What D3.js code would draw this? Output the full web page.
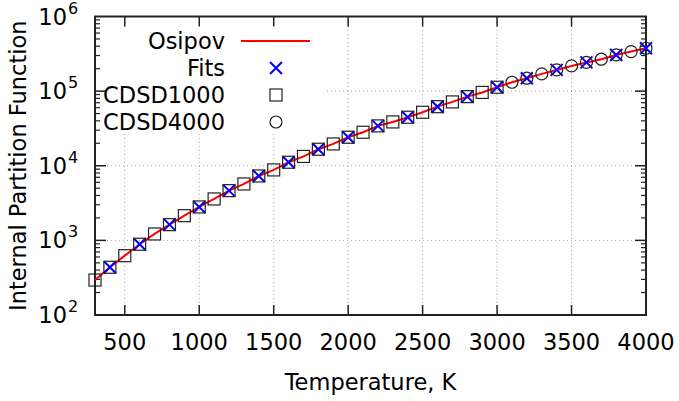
<!DOCTYPE html>
<html>
<head>
<meta charset="utf-8">
<script src="https://cdn.jsdelivr.net/npm/d3@7"></script>
<style>
  html, body { margin: 0; padding: 0; background: #fff; }
  svg { display: block; font-family: "DejaVu Sans", sans-serif; }
</style>
</head>
<body>
<svg id="chart" width="679" height="401"></svg>
<script>
// Temperatures (K) and internal partition function of CO2
const osipovT = [300, 400, 500, 600, 700, 800, 900, 1000, 1100, 1200, 1300, 1400, 1500, 1600, 1700, 1800, 1900, 2000, 2100, 2200, 2300, 2400, 2500, 2600, 2700, 2800, 2900, 3000, 3100, 3200, 3300, 3400, 3500, 3600, 3700, 3800, 3900, 4000];
const osipovQ = [294, 436, 624, 887, 1219, 1624, 2143, 2806, 3590, 4640, 5700, 7300, 8790, 11140, 13330, 16640, 19600, 24100, 28100, 34200, 38650, 44700, 52100, 61900, 71660, 84400, 96070, 112800, 131500, 148900, 170200, 192400, 217700, 242500, 267700, 305600, 338900, 375700];

const fitsT = [400, 600, 800, 1000, 1200, 1400, 1600, 1800, 2000, 2200, 2400, 2600, 2800, 3000, 3200, 3400, 3600, 3800, 4000];
const fitsQ = [436, 887, 1624, 2806, 4640, 7300, 11140, 16640, 24100, 34200, 44700, 61900, 84400, 112800, 148900, 192400, 242500, 305600, 375700];

const cdsd1000T = [300, 400, 500, 600, 700, 800, 900, 1000, 1100, 1200, 1300, 1400, 1500, 1600, 1700, 1800, 1900, 2000, 2100, 2200, 2300, 2400, 2500, 2600, 2700, 2800, 2900, 3000];
const cdsd1000Q = [294, 436, 624, 887, 1219, 1624, 2143, 2806, 3590, 4640, 5700, 7300, 8790, 11140, 13330, 16640, 19600, 24100, 28100, 34200, 38650, 44700, 52100, 61900, 71660, 84400, 96070, 112800];

const cdsd4000T = [3100, 3200, 3300, 3400, 3500, 3600, 3700, 3800, 3900, 4000];
const cdsd4000Q = [131500, 148900, 170200, 192400, 217700, 242500, 267700, 305600, 338900, 375700];

const xTicks = [500, 1000, 1500, 2000, 2500, 3000, 3500, 4000];
const yExponents = [2, 3, 4, 5, 6];

const legendNames = ["Osipov", "Fits", "CDSD1000", "CDSD4000"];

const svg = d3.select("#chart");
const margin = { left: 95, right: 33, top: 16.5, bottom: 86 };
const W = 679, H = 401;
const x0 = margin.left, x1 = W - margin.right, y0 = H - margin.bottom, y1 = margin.top;

const x = d3.scaleLinear().domain([300, 4000]).range([x0, x1]);
const y = d3.scaleLog().domain([1e2, 1e6]).range([y0, y1]);

const gridColor = "#a8a8a8";
const axisColor = "#222";

// Grid at major ticks
const grid = svg.append("g");
xTicks.filter(t => t < 4000).forEach(t => {
  grid.append("line").attr("x1", x(t)).attr("x2", x(t)).attr("y1", y0).attr("y2", y1)
    .attr("stroke", gridColor).attr("stroke-width", 1).attr("stroke-dasharray", "1,3");
});
yExponents.slice(1, -1).forEach(e => {
  grid.append("line").attr("x1", x0).attr("x2", x1).attr("y1", y(10 ** e)).attr("y2", y(10 ** e))
    .attr("stroke", gridColor).attr("stroke-width", 1).attr("stroke-dasharray", "1,3");
});

// Opaque legend background
svg.append("rect").attr("x", x0 + 1).attr("y", y1 + 1).attr("width", 228).attr("height", 116).attr("fill", "#fff");

// Axes: ticks point inward, mirrored on opposite sides
const minorVals = [];
for (let e = 2; e < 6; e++) for (let m = 2; m <= 9; m++) minorVals.push(m * 10 ** e);

const ax = svg.append("g").attr("stroke", axisColor);
xTicks.filter(t => t < 4000).forEach(t => {
  ax.append("line").attr("x1", x(t)).attr("x2", x(t)).attr("y1", y0).attr("y2", y0 - 10).attr("stroke-width", 1.5);
  ax.append("line").attr("x1", x(t)).attr("x2", x(t)).attr("y1", y1).attr("y2", y1 + 10).attr("stroke-width", 1.5);
});
yExponents.slice(1, -1).forEach(e => {
  ax.append("line").attr("x1", x0).attr("x2", x0 + 11).attr("y1", y(10 ** e)).attr("y2", y(10 ** e)).attr("stroke-width", 1.5);
  ax.append("line").attr("x1", x1).attr("x2", x1 - 11).attr("y1", y(10 ** e)).attr("y2", y(10 ** e)).attr("stroke-width", 1.5);
});
minorVals.forEach(v => {
  ax.append("line").attr("x1", x0).attr("x2", x0 + 5).attr("y1", y(v)).attr("y2", y(v)).attr("stroke-width", 1.2);
  ax.append("line").attr("x1", x1).attr("x2", x1 - 5).attr("y1", y(v)).attr("y2", y(v)).attr("stroke-width", 1.2);
});
svg.append("rect").attr("x", x0).attr("y", y1).attr("width", x1 - x0).attr("height", y0 - y1)
  .attr("fill", "none").attr("stroke", axisColor).attr("stroke-width", 2);

// Tick labels
const fs = 22.5;
xTicks.forEach(t => {
  svg.append("text").attr("x", x(t)).attr("y", y0 + 35).attr("text-anchor", "middle")
    .attr("font-size", fs).attr("fill", "#000").text(t);
});
yExponents.forEach(e => {
  svg.append("text").attr("x", 67).attr("y", y(10 ** e) + 8).attr("text-anchor", "end")
    .attr("font-size", fs).attr("fill", "#000").text("10");
  svg.append("text").attr("x", 68).attr("y", y(10 ** e) - 3).attr("text-anchor", "start")
    .attr("font-size", 16).attr("fill", "#000").text(e);
});

// Axis titles
svg.append("text").attr("x", (x0 + x1) / 2).attr("y", 390).attr("text-anchor", "middle")
  .attr("font-size", fs).attr("fill", "#000").text("Temperature, K");
svg.append("text").attr("transform", `translate(26, ${(y0 + y1) / 2}) rotate(-90)`)
  .attr("text-anchor", "middle").attr("font-size", fs).attr("fill", "#000").text("Internal Partition Function");

// Marker shapes
const markS = 6;
function drawX(g, cx, cy) {
  g.append("path").attr("d", `M${cx - markS},${cy - markS}L${cx + markS},${cy + markS}M${cx - markS},${cy + markS}L${cx + markS},${cy - markS}`)
    .attr("stroke", "#0000ff").attr("stroke-width", 2).attr("fill", "none");
}
function drawSquare(g, cx, cy) {
  g.append("rect").attr("x", cx - markS).attr("y", cy - markS).attr("width", 2 * markS).attr("height", 2 * markS)
    .attr("fill", "none").attr("stroke", "#222").attr("stroke-width", 1.2);
}
function drawCircle(g, cx, cy) {
  g.append("circle").attr("cx", cx).attr("cy", cy).attr("r", markS)
    .attr("fill", "none").attr("stroke", "#222").attr("stroke-width", 1.2);
}

// Data
const data = svg.append("g");
const line = d3.line().x(d => x(d[0])).y(d => y(d[1]));
data.append("path").datum(d3.zip(osipovT, osipovQ)).attr("d", line)
  .attr("fill", "none").attr("stroke", "#ff0000").attr("stroke-width", 2);
fitsT.forEach((t, i) => drawX(data, x(t), y(fitsQ[i])));
cdsd1000T.forEach((t, i) => drawSquare(data, x(t), y(cdsd1000Q[i])));
cdsd4000T.forEach((t, i) => drawCircle(data, x(t), y(cdsd4000Q[i])));

// Legend
const lg = svg.append("g");
const legY = [41, 68, 95, 122];
const textRight = 225, sampleX = 276;
legendNames.forEach((n, i) => {
  lg.append("text").attr("x", textRight).attr("y", legY[i] + 8).attr("text-anchor", "end")
    .attr("font-size", fs).attr("fill", "#000").text(n);
});
lg.append("line").attr("x1", 241).attr("x2", 310).attr("y1", legY[0]).attr("y2", legY[0])
  .attr("stroke", "#ff0000").attr("stroke-width", 2);
drawX(lg, sampleX, legY[1]);
drawSquare(lg, sampleX, legY[2]);
drawCircle(lg, sampleX, legY[3]);
</script>
</body>
</html>
